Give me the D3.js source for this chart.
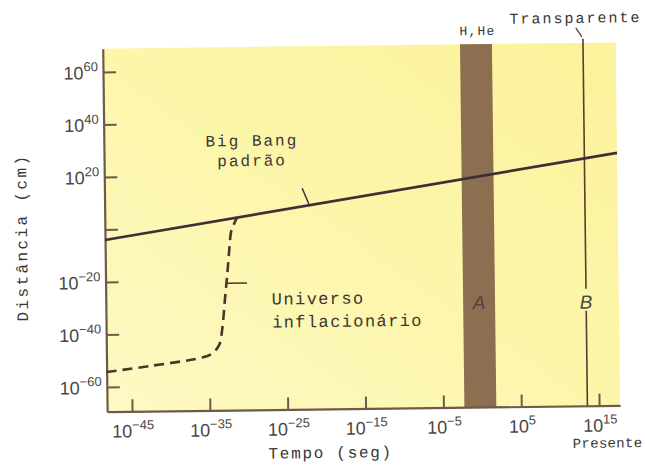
<!DOCTYPE html>
<html>
<head>
<meta charset="utf-8">
<script src="https://cdn.jsdelivr.net/npm/d3@7"></script>
<style>
    body { margin: 0; background: #fff; }
    .mono { font-family: "Liberation Mono", "DejaVu Sans Mono", monospace; fill: #3a3634; }
    .num { font-family: "Liberation Sans", Arial, sans-serif; fill: #4a4644; }
</style>
</head>
<body>
<div id="chart"></div>
<script>
// everything in log10 exponents
const yTicks = [-60, -40, -20, 0, 20, 40, 60];
const yLabels = ["−60", "−40", "−20", "", "20", "40", "60"];
const xTicks = [-45, -35, -25, -15, -5, 5, 15];
const xLabels = ["−45", "−35", "−25", "−15", "−5", "5", "15"];

const bigBangTime = [-48.2, 17.7];
const bigBangDist = [-4.0, 26.8];

const inflTime = [-48.2, -42.6, -36.2, -34.7, -33.7, -33.3, -32.9, -32.5, -32.2, -32.0, -31.6, -31.2];
const inflDist = [-54.3, -52.2, -49.4, -47.9, -44.5, -38.8, -27.4, -16.0, -6.4, -1.5, 1.6, 3.9];

const bandA = [-2.3, 1.8];   // H,He
const lineB = 13.5;          // Transparente

const bigBangNote = [-21.9, 8.3];
const inflNote = [-32.6, -21.0];

const W = 645, H = 470;

const svg = d3.select("#chart").append("svg")
    .attr("width", W)
    .attr("height", H);

// the scan is a little tilted
const g = svg.append("g").attr("transform", "rotate(-0.7, 322, 235)");

const x = d3.scaleLinear().domain([-48.2, 17.7]).range([105, 618]);
const y = d3.scaleLinear().domain([-69.4, 68.9]).range([409, 46]);

const defs = svg.append("defs");
const grad = defs.append("linearGradient").attr("id", "paper")
    .attr("x1", "0").attr("y1", "1").attr("x2", "1").attr("y2", "0");
grad.append("stop").attr("offset", "0").attr("stop-color", "#fdf9c4");
grad.append("stop").attr("offset", "0.5").attr("stop-color", "#fcf6aa");
grad.append("stop").attr("offset", "1").attr("stop-color", "#fbf29c");

g.append("rect")
    .attr("x", x.range()[0]).attr("y", y.range()[1])
    .attr("width", x.range()[1] - x.range()[0])
    .attr("height", y.range()[0] - y.range()[1])
    .attr("fill", "url(#paper)");

// band A
g.append("rect")
    .attr("x", x(bandA[0])).attr("y", y.range()[1])
    .attr("width", x(bandA[1]) - x(bandA[0]))
    .attr("height", y.range()[0] - y.range()[1])
    .attr("fill", "#8c6e50");

// line B
g.append("line")
    .attr("x1", x(lineB)).attr("x2", x(lineB))
    .attr("y1", 42).attr("y2", y.range()[0])
    .attr("stroke", "#5a3d2c").attr("stroke-width", 1.6);
g.append("line")
    .attr("x1", x(lineB) - 7).attr("y1", 31)
    .attr("x2", x(lineB) - 1).attr("y2", 40)
    .attr("stroke", "#4a3a30").attr("stroke-width", 1.2);

// axes
const yAxis = d3.axisLeft(y).tickValues(yTicks).tickSize(-13).tickSizeOuter(0).tickFormat("");
const xAxis = d3.axisBottom(x).tickValues(xTicks).tickSize(-12).tickSizeOuter(0).tickFormat("");

const ya = g.append("g").attr("transform", `translate(${x.range()[0]},0)`).call(yAxis);
const xa = g.append("g").attr("transform", `translate(0,${y.range()[0]})`).call(xAxis);
[ya, xa].forEach(a => {
    a.select(".domain").attr("stroke", "#6e5a48").attr("stroke-width", 2.2);
    a.selectAll(".tick line").attr("stroke", "#6e5a48").attr("stroke-width", 2);
});

yTicks.forEach((v, i) => {
    if (!yLabels[i]) return;
    const t = g.append("text").attr("class", "num")
        .attr("x", x.range()[0] - 5).attr("y", y(v) + 7)
        .attr("text-anchor", "end");
    t.append("tspan").attr("font-size", 18).text("10");
    t.append("tspan").attr("font-size", 13).attr("dy", -8).text(yLabels[i]);
});

xTicks.forEach((v, i) => {
    const t = g.append("text").attr("class", "num")
        .attr("x", x(v) + 1).attr("y", 435)
        .attr("text-anchor", "middle");
    t.append("tspan").attr("font-size", 18).text("10");
    t.append("tspan").attr("font-size", 13).attr("dy", -8).text(xLabels[i]);
});

// curves
const line = d3.line()
    .x(d => x(d[0]))
    .y(d => y(d[1]));

g.append("path")
    .datum(d3.zip(inflTime, inflDist))
    .attr("d", line.curve(d3.curveCatmullRom))
    .attr("fill", "none")
    .attr("stroke", "#4a3628").attr("stroke-width", 2.6)
    .attr("stroke-dasharray", "10,6");

g.append("path")
    .datum(d3.zip(bigBangTime, bigBangDist))
    .attr("d", line.curve(d3.curveLinear))
    .attr("fill", "none")
    .attr("stroke", "#3d2f35").attr("stroke-width", 2.6);

// leaders
g.append("line")
    .attr("x1", x(bigBangNote[0])).attr("y1", y(bigBangNote[1]))
    .attr("x2", x(bigBangNote[0]) - 7).attr("y2", y(bigBangNote[1]) - 17)
    .attr("stroke", "#3d2f35").attr("stroke-width", 1.5);
g.append("line")
    .attr("x1", x(inflNote[0])).attr("y1", y(inflNote[1]))
    .attr("x2", x(inflNote[0]) + 20).attr("y2", y(inflNote[1]))
    .attr("stroke", "#4a3628").attr("stroke-width", 1.5);

// texts
const mono = (tx, ty, s, size, ls, anchor) => g.append("text").attr("class", "mono")
    .attr("x", tx).attr("y", ty)
    .attr("font-size", size)
    .attr("letter-spacing", ls)
    .attr("text-anchor", anchor || "middle")
    .text(s);

mono(253, 145, "Big Bang", 16, 2);
mono(253, 165, "padrão", 16, 2);
mono(271, 304, "Universo", 17, 1.4, "start");
mono(271, 327, "inflacionário", 17, 1.4, "start");
mono(480, 37, "H,He", 13, 1.2);
mono(578, 26, "Transparente", 15, 2);
mono(605, 451, "Presente", 14, 0.3);
mono(328, 458, "Tempo (seg)", 16, 1.7);

g.append("text").attr("class", "mono")
    .attr("transform", "translate(27,234) rotate(-90)")
    .attr("font-size", 16).attr("letter-spacing", 2.4)
    .attr("text-anchor", "middle")
    .text("Distância (cm)");

const ital = (tx, ty, s) => g.append("text").attr("class", "num")
    .attr("x", tx).attr("y", ty)
    .attr("font-size", 19).attr("font-style", "italic")
    .attr("text-anchor", "middle").attr("fill", "#333")
    .text(s);

const bx = x(lineB);
g.append("rect").attr("x", bx - 7).attr("y", 292).attr("width", 14).attr("height", 22).attr("fill", "#fcf6aa");
ital(bx, 312, "B");
ital(x((bandA[0] + bandA[1]) / 2), 311, "A");
</script>
</body>
</html>
